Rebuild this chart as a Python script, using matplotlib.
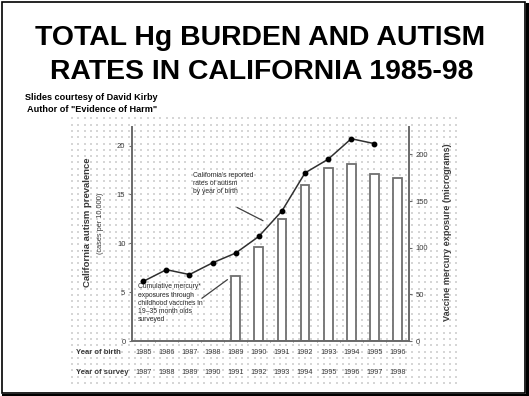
import numpy as np
import matplotlib
matplotlib.use("Agg")
import matplotlib.pyplot as plt
from matplotlib.patches import Rectangle

plt.rcParams['font.family'] = ['Liberation Sans', 'DejaVu Sans']

# ---------------- data ----------------
birth_years = [1985, 1986, 1987, 1988, 1989, 1990, 1991, 1992, 1993, 1994, 1995, 1996]
survey_years = [1987, 1988, 1989, 1990, 1991, 1992, 1993, 1994, 1995, 1996, 1997, 1998]
autism_years = [1985, 1986, 1987, 1988, 1989, 1990, 1991, 1992, 1993, 1994, 1995]
autism_rate = [6.1, 7.3, 6.8, 8.0, 9.0, 10.7, 13.3, 17.2, 18.6, 20.7, 20.2]
mercury_years = [1989, 1990, 1991, 1992, 1993, 1994, 1995, 1996]
mercury_ug = [70, 101, 131, 167, 185, 190, 179, 175]
left_ticks = [0, 5, 10, 15, 20]
right_ticks = [0, 50, 100, 150, 200]

W, H = 529, 396
fig = plt.figure(figsize=(W / 100, H / 100), dpi=100)
fig.patch.set_facecolor('white')

def fx(px):
    return px / W

def fy(py):
    return 1 - py / H

# dotted background pattern region
bg = fig.add_axes([fx(70), fy(385), fx(461) - fx(70), fy(115) - fy(385)])
bg.set_zorder(-5)
bg.axis('off')
gx, gy = np.meshgrid(np.arange(2, 391, 6.3), np.arange(2, 270, 6.3))
bg.scatter(gx.ravel(), gy.ravel(), s=0.6, c='#d6d6d6', marker='s', linewidths=0)
bg.set_xlim(0, 391)
bg.set_ylim(0, 270)

gray_txt = '#3a3a3a'
axis_col = '#6a6a6a'

ax = fig.add_axes([fx(131.7), fy(341), fx(409) - fx(131.7), fy(127) - fy(341)])
ax2 = ax.twinx()
ax.set_zorder(ax2.get_zorder() + 1)
ax.patch.set_visible(False)
ax2.patch.set_visible(False)

# bars on the right axis
ax2.bar(mercury_years, mercury_ug, width=0.38, facecolor='white',
        edgecolor='#707070', linewidth=1.3, zorder=2)
ax2.set_ylim(0, 229.4)

# line on the left axis
ax.plot(autism_years, autism_rate, color='#303030', linewidth=1.1,
        marker='o', markersize=3.2, markerfacecolor='black', markeredgecolor='black', zorder=5)
ax.set_ylim(0, 21.9)
ax.set_xlim(1984.5, 1996.5)

for a in (ax, ax2):
    for s in a.spines.values():
        s.set_visible(False)
ax.spines['left'].set_visible(True)
ax.spines['bottom'].set_visible(True)
ax2.spines['right'].set_visible(True)
for s in (ax.spines['left'], ax.spines['bottom'], ax2.spines['right']):
    s.set_color(axis_col)
    s.set_linewidth(1.4)

ax.set_yticks(left_ticks)
ax.set_yticklabels([str(t) for t in left_ticks], fontsize=5.5, color=gray_txt)
ax.tick_params(axis='y', length=2.5, width=0.8, color=axis_col, pad=2)
ax2.set_yticks(right_ticks)
ax2.set_yticklabels([str(t) for t in right_ticks], fontsize=5.5, color=gray_txt)
ax2.tick_params(axis='y', length=2.5, width=0.8, color=axis_col, pad=2)

ax.set_xticks([y + 0.5 for y in birth_years[:-1]])
ax.set_xticklabels([])
ax.tick_params(axis='x', length=2, width=0.6, color=axis_col, direction='inout')

# year rows
trans = ax.get_xaxis_transform()
for by, sy in zip(birth_years, survey_years):
    ax.text(by, -12 / 214, str(by), transform=trans, ha='center', va='center',
            fontsize=5.2, color=gray_txt)
    ax.text(by, -31 / 214, str(sy), transform=trans, ha='center', va='center',
            fontsize=5.2, color=gray_txt)
fig.text(fx(76), fy(353), 'Year of birth', fontsize=5.5, fontweight='bold',
         color=gray_txt, ha='left', va='center')
fig.text(fx(76), fy(372), 'Year of survey', fontsize=5.5, fontweight='bold',
         color=gray_txt, ha='left', va='center')

# axis labels
fig.text(fx(88), fy(222), 'California autism prevalence', rotation=90, fontsize=6.8,
         fontweight='bold', color=gray_txt, ha='center', va='center')
fig.text(fx(101), fy(223), '(cases per 10,000)', rotation=90, fontsize=5.3,
         color=gray_txt, ha='center', va='center')
fig.text(fx(447), fy(232), 'Vaccine mercury exposure (micrograms)', rotation=90,
         fontsize=6.6, fontweight='bold', color=gray_txt, ha='center', va='center')

# annotations
ax.text(1987.14, 17.3, "California's reported\nrates of autism\nby year of birth",
        fontsize=4.9, color='#2a2a2a', ha='left', va='top', linespacing=1.25)
ax.annotate('', xy=(1990.29, 12.18), xytext=(1988.95, 13.8),
            arrowprops=dict(arrowstyle='-', color='#404040', lw=0.9))
ax.text(1984.77, 5.9, "Cumulative mercury*\nexposures through\nchildhood vaccines in\n19\u201335 month olds\nsurveyed",
        fontsize=4.9, color='#2a2a2a', ha='left', va='top', linespacing=1.25)
ax.annotate('', xy=(1988.74, 6.45), xytext=(1987.44, 4.2),
            arrowprops=dict(arrowstyle='-', color='#404040', lw=0.9))

# title and credits
fig.text(fx(260), fy(38), 'TOTAL Hg BURDEN AND AUTISM', fontsize=20.4, fontweight='bold',
         color='black', ha='center', va='center')
fig.text(fx(262), fy(72), 'RATES IN CALIFORNIA 1985-98', fontsize=20.4, fontweight='bold',
         color='black', ha='center', va='center')
fig.text(fx(25), fy(97), 'Slides courtesy of David Kirby', fontsize=6.6, fontweight='bold',
         color='black', ha='left', va='center')
fig.text(fx(27), fy(110), 'Author of "Evidence of Harm"', fontsize=6.6, fontweight='bold',
         color='black', ha='left', va='center')

# slide border with shadow
fig.add_artist(Rectangle((fx(2), fy(393)), fx(525) - fx(2), fy(2) - fy(393),
                         transform=fig.transFigure, fill=False, edgecolor='black', linewidth=1.2))
fig.add_artist(plt.Line2D([fx(3), fx(527)], [fy(394.5), fy(394.5)], transform=fig.transFigure,
                          color='black', linewidth=2.2))
fig.add_artist(plt.Line2D([fx(526.5), fx(526.5)], [fy(4), fy(395)], transform=fig.transFigure,
                          color='black', linewidth=2.2))

fig.savefig('out.png', dpi=100)
